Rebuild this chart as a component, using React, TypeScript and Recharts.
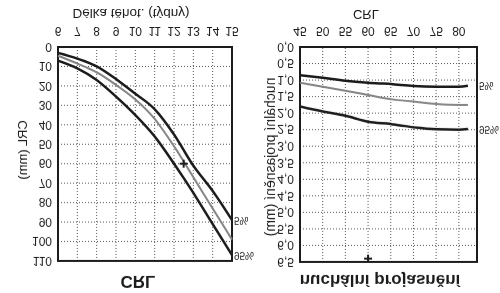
import React from "react";
import {
  ComposedChart,
  Line,
  XAxis,
  YAxis,
  CartesianGrid,
  ReferenceArea,
  ReferenceDot,
} from "recharts";

// left panel: CRL (mm) by week of pregnancy
const weeks = [6, 7, 8, 9, 10, 11, 12, 13, 14, 15];
const crlP5 = [3, 6, 10, 16.5, 24, 32, 45, 61, 74, 89];
const crlP50 = [4.5, 8.5, 13, 19.5, 27, 37, 51, 67, 83, 99];
const crlP95 = [7, 11, 17, 25.5, 35, 46, 60, 75, 91, 107];
const crlTicks = [0, 10, 20, 30, 40, 50, 60, 70, 80, 90, 100, 110];
const crlMarker = [{ week: 12.5, crl: 60 }];

// right panel: nuchal translucency (mm) by CRL
const ntCrl = [45, 50, 55, 60, 65, 70, 75, 80, 82];
const ntP5 = [0.85, 0.93, 1.02, 1.08, 1.12, 1.18, 1.2, 1.2, 1.17];
const ntP50 = [1.08, 1.2, 1.32, 1.45, 1.58, 1.65, 1.72, 1.75, 1.75];
const ntP95 = [1.8, 1.95, 2.08, 2.26, 2.33, 2.43, 2.49, 2.5, 2.48];
const crlAxisTicks = [45, 50, 55, 60, 65, 70, 75, 80];
const ntTicks = [0, 0.5, 1, 1.5, 2, 2.5, 3, 3.5, 4, 4.5, 5, 5.5, 6, 6.5];
const ntMarker = [{ crl: 60, nt: 6.4 }];

const leftRows = weeks.map((w, i) => ({ week: w, p5: crlP5[i], p50: crlP50[i], p95: crlP95[i] }));
const rightRows = ntCrl.map((c, i) => ({ crl: c, p5: ntP5[i], p50: ntP50[i], p95: ntP95[i] }));

const INK = "#1c1c1c";
const tick = { fill: INK, fontSize: 12 };

// only label the last point of a line
const endLabel = (text: string, last: number, dx: number) => (p: any) =>
  p.index === last ? (
    <text x={p.x + dx} y={p.y} dy="0.35em" fontSize={10} fill={INK}>
      {text}
    </text>
  ) : null;

const Cross = (p: any) => (
  <g stroke={INK} strokeWidth={2}>
    <line x1={p.cx - 4} x2={p.cx + 4} y1={p.cy} y2={p.cy} />
    <line x1={p.cx} x2={p.cx} y1={p.cy - 4} y2={p.cy + 4} />
  </g>
);

export default function App() {
  return (
    <div
      style={{
        position: "fixed",
        left: 0,
        top: 0,
        width: 500,
        height: 293,
        background: "#fff",
        transform: "scaleY(-1)",
        fontFamily: '"Liberation Sans", Arial, sans-serif',
      }}
    >
      <style>{".recharts-surface{overflow:visible}"}</style>
      <div style={{ position: "absolute", left: 0, top: 0 }}>
        <ComposedChart width={250} height={293} data={leftRows} margin={{ top: 32, right: 18, bottom: 17, left: 0 }}>
          <CartesianGrid stroke="#555" strokeDasharray="1 2" />
          <XAxis dataKey="week" type="number" domain={[6, 15]} ticks={weeks} interval={0} tickLine={false} axisLine={false} height={30} tickMargin={5} tick={tick} />
          <YAxis type="number" domain={[0, 110]} ticks={crlTicks} interval={0} tickLine={false} axisLine={false} width={58} tickMargin={0} tick={tick} />
          <Line dataKey="p50" type="monotone" stroke="#858585" strokeWidth={2} dot={false} isAnimationActive={false} />
          <Line dataKey="p5" type="monotone" stroke={INK} strokeWidth={2.5} dot={false} isAnimationActive={false} label={endLabel("5%", weeks.length - 1, 2)} />
          <Line dataKey="p95" type="monotone" stroke={INK} strokeWidth={2.5} dot={false} isAnimationActive={false} label={endLabel("95%", weeks.length - 1, 2)} />
          <ReferenceArea x1={6} x2={15} y1={0} y2={110} fill="none" stroke={INK} strokeWidth={2} />
          {crlMarker.map((m) => (
            <ReferenceDot key="m" x={m.week} y={m.crl} shape={Cross} />
          ))}
        </ComposedChart>
      </div>
      <div style={{ position: "absolute", left: 250, top: 0 }}>
        <ComposedChart width={250} height={293} data={rightRows} margin={{ top: 31, right: 23, bottom: 17, left: 0 }}>
          <CartesianGrid stroke="#555" strokeDasharray="1 2" />
          <XAxis dataKey="crl" type="number" domain={[45, 84]} ticks={crlAxisTicks} interval={0} allowDataOverflow tickLine={false} axisLine={false} height={30} tickMargin={5} tick={tick} />
          <YAxis type="number" domain={[0, 6.5]} ticks={ntTicks} interval={0} tickLine={false} axisLine={false} width={50} tickMargin={0} tick={tick} tickFormatter={(v: number) => v.toFixed(1).replace(".", ",")} />
          <Line dataKey="p50" type="monotone" stroke="#858585" strokeWidth={2} dot={false} isAnimationActive={false} />
          <Line dataKey="p5" type="monotone" stroke={INK} strokeWidth={2.5} dot={false} isAnimationActive={false} label={endLabel("5%", ntCrl.length - 1, 11)} />
          <Line dataKey="p95" type="monotone" stroke={INK} strokeWidth={2.5} dot={false} isAnimationActive={false} label={endLabel("95%", ntCrl.length - 1, 11)} />
          <ReferenceArea x1={45} x2={84} y1={0} y2={6.5} fill="none" stroke={INK} strokeWidth={2} />
          {ntMarker.map((m) => (
            <ReferenceDot key="m" x={m.crl} y={m.nt} shape={Cross} />
          ))}
        </ComposedChart>
      </div>
      <svg width={500} height={293} style={{ position: "absolute", left: 0, top: 0, pointerEvents: "none" }}>
        <g fill={INK} textAnchor="middle" dominantBaseline="central">
          <text x={138} y={11} fontSize={17} fontWeight="bold">CRL</text>
          <text x={380} y={12} fontSize={17} fontWeight="bold">nuchální projasnění</text>
          <text x={131} y={279} fontSize={13.5}>Délka těhot. (týdny)</text>
          <text x={366} y={278} fontSize={13}>CRL</text>
          <text transform="translate(22,143) rotate(-90)" fontSize={13}>CRL (mm)</text>
          <text transform="translate(270,136) rotate(-90)" fontSize={14}>nuchální projasnění (mm)</text>
        </g>
      </svg>
    </div>
  );
}
